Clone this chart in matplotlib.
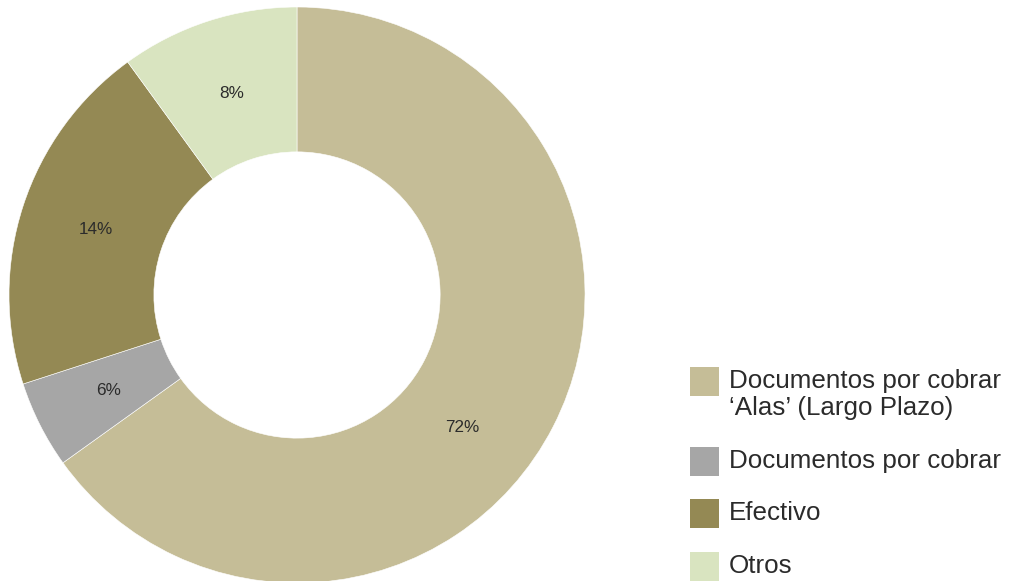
import numpy as np
import matplotlib
matplotlib.use("Agg")
import matplotlib.pyplot as plt
from matplotlib.patches import Rectangle

# Data (shares as drawn, labels as printed)
categories = ["Documentos por cobrar\n\u2018Alas\u2019 (Largo Plazo)",
              "Documentos por cobrar",
              "Efectivo",
              "Otros"]
values = [65.1, 4.9, 20.0, 10.0]
value_labels = ["72%", "6%", "14%", "8%"]
colors = ["#C5BD97", "#A6A6A6", "#948954", "#D9E4C0"]

W, H = 1012, 581
fig = plt.figure(figsize=(W / 100, H / 100), dpi=100)
fig.patch.set_facecolor("white")

cx, cy, R = 297, 295, 288
ax = fig.add_axes([(cx - R) / W, (H - cy - R) / H, 2 * R / W, 2 * R / H])
ax.axis("off")

font = dict(family=["Liberation Sans", "DejaVu Sans"])

wedges, _ = ax.pie(values, colors=colors, startangle=90, counterclock=False,
                   radius=1.0, wedgeprops=dict(width=0.503, edgecolor="white", linewidth=0.4))
ax.set_xlim(-1, 1)
ax.set_ylim(-1, 1)
ax.set_aspect("equal")

# value labels at slice middles
label_shift = [11.5, 0, 0, 0]  # degrees, clockwise
cum = np.cumsum([0] + values[:-1])
tot = sum(values)
for v, c, lab, sh in zip(values, cum, value_labels, label_shift):
    theta = np.deg2rad(90 - (c + v / 2) / tot * 360 - sh)
    r = 0.735
    ax.text(r * np.cos(theta), r * np.sin(theta), lab, ha="center", va="center",
            fontsize=12.3, color="#2b2b2b", **font)

# legend
sq = 29
row_tops = [367, 447, 499, 552]
for lab, col, top in zip(categories, colors, row_tops):
    fig.patches.append(Rectangle((690 / W, 1 - (top + sq) / H), sq / W, sq / H,
                                 transform=fig.transFigure, facecolor=col,
                                 edgecolor="none"))
    lines = lab.split("\n")
    for i, line in enumerate(lines):
        base = top + 21 + 27 * i
        fig.text(729 / W, 1 - base / H, line, ha="left",
                 va="baseline", fontsize=18.7, color="#2b2b2b", **font)

fig.savefig("out.png", dpi=100, facecolor="white")
